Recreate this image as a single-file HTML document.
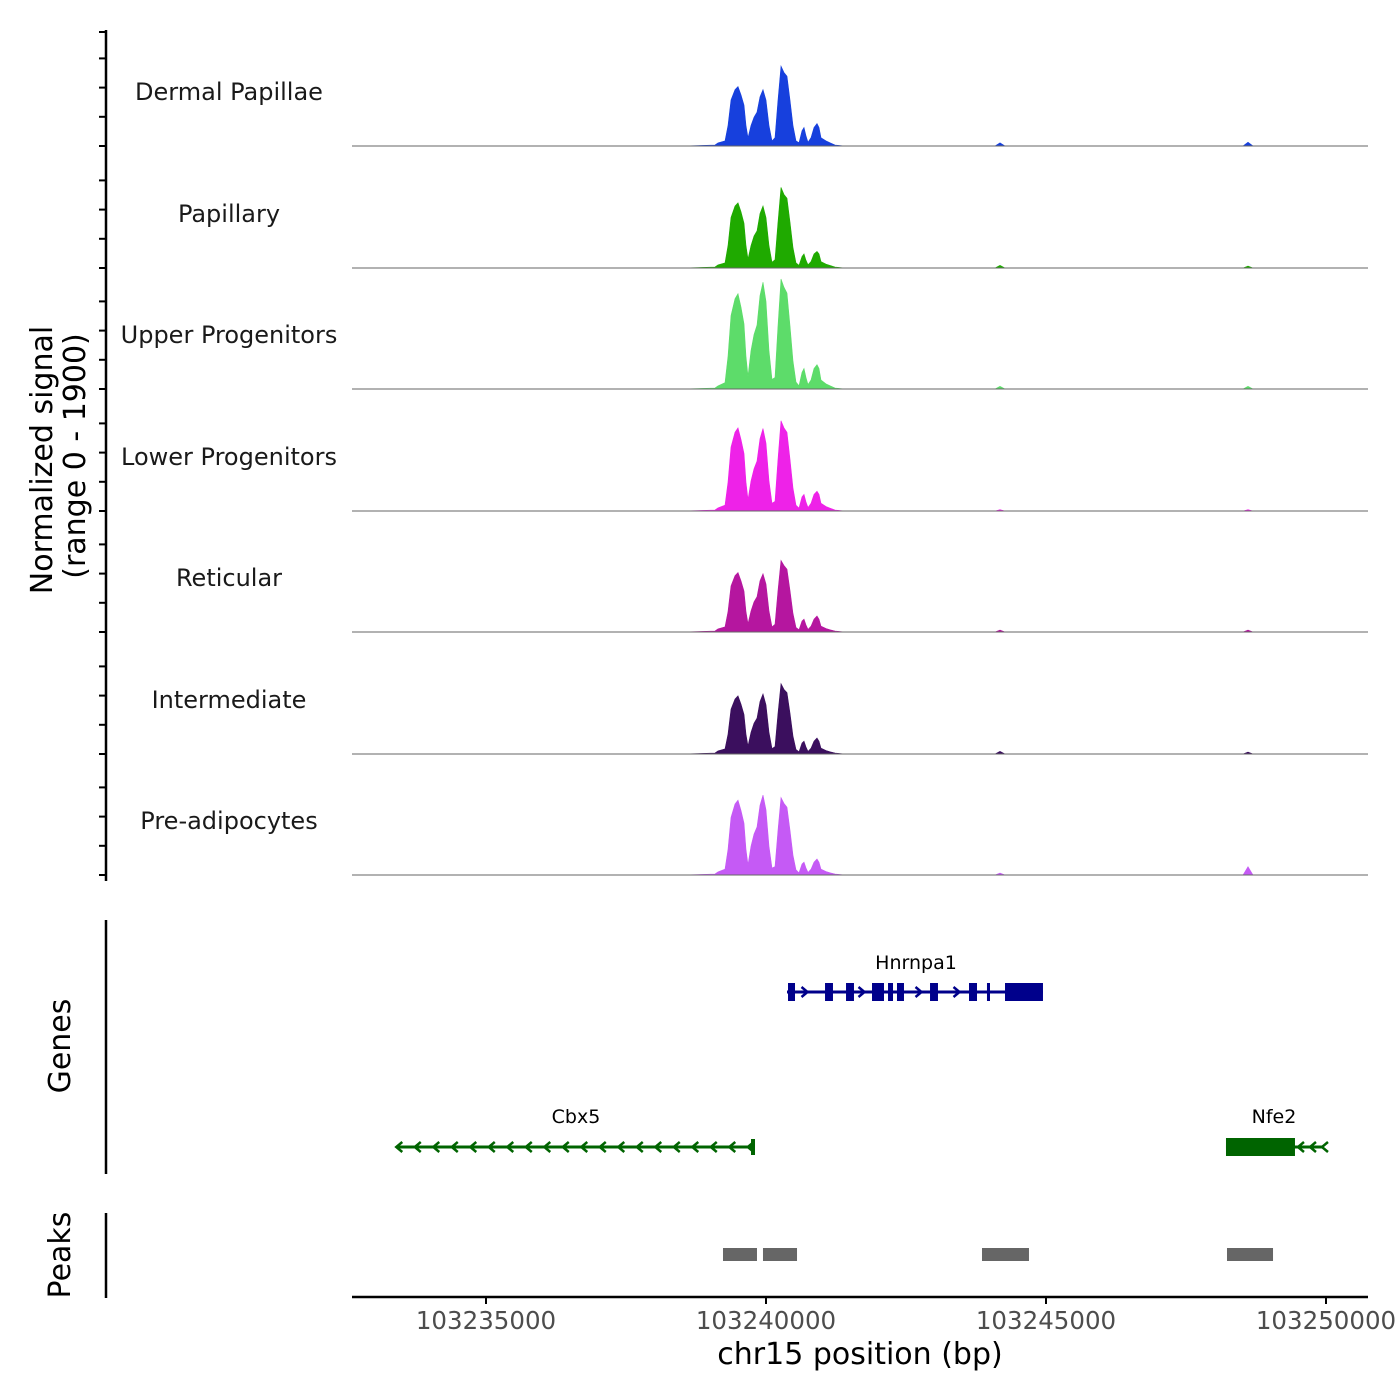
<!DOCTYPE html>
<html><head><meta charset="utf-8"><style>
html,body{margin:0;padding:0;background:#fff;}
svg{display:block;font-family:"DejaVu Sans","Liberation Sans",sans-serif;}
</style></head><body>
<svg id="chart" width="1400" height="1400" viewBox="0 0 1400 1400" xmlns="http://www.w3.org/2000/svg">
<rect width="1400" height="1400" fill="#fff"/>
<g id="tracks"></g>
<g id="yaxis"></g>
<text transform="translate(52,460) rotate(-90)" text-anchor="middle" font-size="30" fill="#000">Normalized signal</text>
<text transform="translate(85,456) rotate(-90)" text-anchor="middle" font-size="30" fill="#000">(range 0 - 1900)</text>
<line x1="106" y1="920" x2="106" y2="1174" stroke="#000" stroke-width="2.5"/>
<text transform="translate(70,1046) rotate(-90)" text-anchor="middle" font-size="30">Genes</text>
<g id="genes"></g>
<line x1="106" y1="1213" x2="106" y2="1298" stroke="#000" stroke-width="2.5"/>
<text transform="translate(70,1255) rotate(-90)" text-anchor="middle" font-size="30">Peaks</text>
<g id="peaks"></g>
<g id="xaxis"></g>
<text x="860" y="1364" text-anchor="middle" font-size="30">chr15 position (bp)</text>
</svg>
<script>
const positions=[103232607,103238500,103239089,103239143,103239268,103239321,103239375,103239446,103239500,103239554,103239607,103239643,103239679,103239732,103239786,103239839,103239893,103239946,103240000,103240054,103240107,103240161,103240214,103240268,103240321,103240375,103240429,103240482,103240536,103240589,103240643,103240679,103240714,103240750,103240804,103240857,103240911,103240946,103240982,103241071,103241143,103241232,103241411,103244089,103244179,103244268,103248518,103248607,103248696,103250750];
const groups=["Dermal Papillae","Papillary","Upper Progenitors","Lower Progenitors","Reticular","Intermediate","Pre-adipocytes"];
const colors=["#1740dd","#1faa00","#5ddc6a","#ee22e8","#b5169f","#3b0f5e","#c55af5"];
const dpValues=[0,0,16,48,80,320,720,880,930,800,640,320,130,320,450,530,770,880,720,320,80,130,720,1250,1150,1090,720,320,80,50,240,290,160,60,130,290,350,290,130,80,50,16,0,0,50,0,0,60,0,0];
const papValues=[0,0,16,48,80,350,790,970,1020,880,700,350,140,350,500,580,850,970,790,350,90,130,720,1260,1150,1090,720,320,80,40,180,220,120,50,100,220,260,220,100,60,40,16,0,0,40,0,0,30,0,0];
const upValues=[0,0,16,48,100,510,1150,1410,1490,1280,1020,510,200,600,850,1000,1460,1670,1370,600,150,180,990,1720,1590,1500,990,440,110,50,260,320,180,70,140,320,380,320,140,80,50,16,0,0,40,0,0,40,0,0];
const lpValues=[0,0,16,48,90,450,1000,1230,1300,1120,900,450,180,470,660,780,1130,1290,1060,470,120,150,810,1410,1300,1230,810,360,90,45,220,260,140,55,120,260,310,260,120,70,45,16,0,0,20,0,0,20,0,0];
const retValues=[0,0,16,48,80,320,720,880,930,800,640,320,130,330,470,550,800,910,750,330,80,120,650,1120,1040,980,650,290,70,35,170,200,110,40,90,200,250,200,90,55,35,16,0,0,30,0,0,30,0,0];
const intValues=[0,0,16,48,80,310,700,860,910,780,620,310,125,340,480,560,820,940,770,340,85,115,640,1100,1010,960,640,280,70,35,170,200,110,40,90,200,250,200,90,55,35,16,0,0,40,0,0,30,0,0];
const preValues=[0,0,16,48,90,400,900,1110,1170,1010,810,400,160,450,640,750,1090,1250,1020,450,110,130,700,1210,1120,1060,700,310,80,35,170,200,110,40,90,200,250,200,90,55,35,16,0,0,30,0,0,130,0,0];
const xTicks=[103235000,103240000,103245000,103250000];
const hnrnpa1Exons=[[103240393,103240518],[103241054,103241196],[103241429,103241571],[103241893,103242107],[103242179,103242268],[103242339,103242464],[103242929,103243071],[103243625,103243768],[103243946,103244000],[103244268,103244946]];
const peakRegions=[[103239232,103239839],[103239946,103240554],[103243857,103244696],[103248232,103249054]];

const NS="http://www.w3.org/2000/svg";
function mk(tag,attrs,parent){const e=document.createElementNS(NS,tag);for(const k in attrs)e.setAttribute(k,attrs[k]);parent.appendChild(e);return e;}
const xScale=bp=>486+(bp-103235000)*0.056;
const yMax=1900, trackH=121.5;
const baselines=[146,268,389,511,632,754,875];
const allValues=[dpValues,papValues,upValues,lpValues,retValues,intValues,preValues];
const tracks=document.getElementById('tracks');
groups.forEach((g,i)=>{
  const b=baselines[i];
  const yS=v=>b-v/yMax*trackH;
  let d=`M${xScale(positions[0])},${b}`;
  positions.forEach((p,j)=>{d+=` L${xScale(p).toFixed(1)},${yS(allValues[i][j]).toFixed(1)}`;});
  d+=` L${xScale(positions[positions.length-1])},${b} Z`;
  const path=mk('path',{d:d,fill:colors[i],stroke:colors[i],'stroke-width':0.6},tracks);
  
  
  const bl=mk('line',{x1:352,x2:1368,y1:b,y2:b,stroke:'#666','stroke-width':1},tracks);
  
  
  const t=mk('text',{x:229,y:b-46,'text-anchor':'middle','font-size':24,fill:'#1a1a1a'},tracks);
  
  
  t.textContent=g;
});
const ya=document.getElementById('yaxis');
mk('line',{x1:106,y1:30,x2:106,y2:881,stroke:'#000','stroke-width':2.5},ya);
baselines.forEach(b=>{for(let k=0;k<4;k++){const y=b-k*29.2;if(y<31)continue;const tk=mk('line',{x1:99,x2:106,y1:y,y2:y,stroke:'#000','stroke-width':2},ya);}});
[32].forEach(y=>{mk('line',{x1:99,x2:106,y1:y,y2:y,stroke:'#000','stroke-width':2},ya);});

const gn=document.getElementById('genes');
const blue="#00008b", green="#006400";
function chevrons(x1,x2,y,dir,col,step,skip){
  for(let x=x1+step/2;x<x2;x+=step){
    if(skip&&skip(x))continue;
    const c=mk('path',{d:dir>0?`M${x-3},${y-5} L${x+3},${y} L${x-3},${y+5}`:`M${x+3},${y-5} L${x-3},${y} L${x+3},${y+5}`,fill:'none',stroke:col,'stroke-width':2.5},gn);
    
    
  }
}
const hy=992;
mk('line',{x1:xScale(103240375),x2:xScale(103244946),y1:hy,y2:hy,stroke:blue,'stroke-width':3},gn);
chevrons(xScale(103240518),xScale(103244268),hy,1,blue,19,x=>hnrnpa1Exons.some(e=>x>xScale(e[0])-5&&x<xScale(e[1])+5));
hnrnpa1Exons.forEach(e=>{const r=mk('rect',{x:xScale(e[0]),y:hy-9,width:xScale(e[1])-xScale(e[0]),height:18,fill:blue},gn);});
const l1=mk('text',{x:916,y:969,'text-anchor':'middle','font-size':19},gn);l1.textContent='Hnrnpa1';


const cy=1147;
mk('line',{x1:xScale(103233429),x2:xScale(103239768),y1:cy,y2:cy,stroke:green,'stroke-width':3},gn);
mk('rect',{x:xScale(103239768)-2,y:cy-8,width:4,height:16,fill:green},gn);
chevrons(xScale(103233429)-8,xScale(103239768),cy,-1,green,18.5);
const l2=mk('text',{x:576,y:1123,'text-anchor':'middle','font-size':19},gn);l2.textContent='Cbx5';


mk('line',{x1:xScale(103248214),x2:xScale(103249946),y1:cy,y2:cy,stroke:green,'stroke-width':3},gn);
mk('rect',{x:xScale(103248214),y:cy-9,width:xScale(103249446)-xScale(103248214),height:18,fill:green},gn);
chevrons(xScale(103249446),xScale(103249946)+4,cy,-1,green,12);
const l3=mk('text',{x:1274,y:1123,'text-anchor':'middle','font-size':19},gn);l3.textContent='Nfe2';



const pk=document.getElementById('peaks');
peakRegions.forEach(p=>{const r=mk('rect',{x:xScale(p[0]),y:1248,width:xScale(p[1])-xScale(p[0]),height:13,fill:'#666'},pk);});

const xa=document.getElementById('xaxis');
mk('line',{x1:352,x2:1368,y1:1297,y2:1297,stroke:'#000','stroke-width':2.5},xa);
xTicks.forEach(t=>{const x=xScale(t);mk('line',{x1:x,x2:x,y1:1297,y2:1304,stroke:'#000','stroke-width':2},xa);
const tx=mk('text',{x:x,y:1329,'text-anchor':'middle','font-size':24.5,fill:'#4d4d4d'},xa);tx.textContent=t;

});
</script>
</body></html>
